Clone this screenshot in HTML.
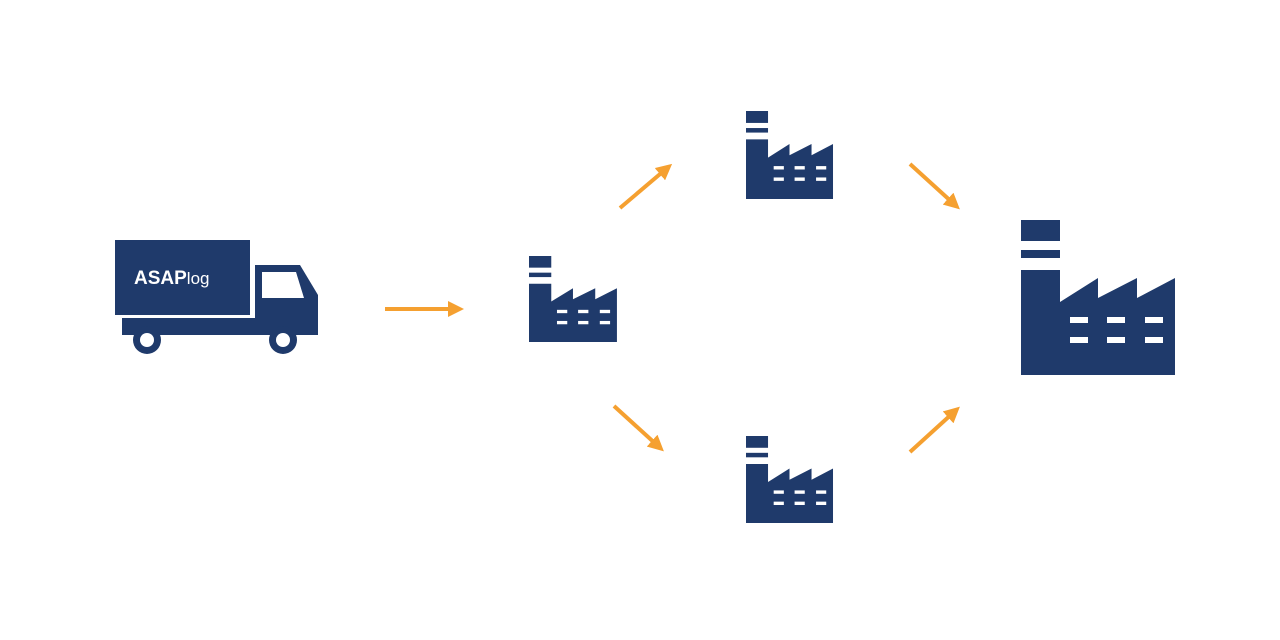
<!DOCTYPE html>
<html><head><style>html,body{margin:0;padding:0;background:#fff;width:1280px;height:640px;overflow:hidden}</style></head>
<body>
<svg width="1280" height="640" viewBox="0 0 1280 640" xmlns="http://www.w3.org/2000/svg">
<defs>
<g id="f">
<rect x="0" y="0" width="39" height="21" fill="#1f3a6b"/>
<rect x="0" y="30" width="39" height="8" fill="#1f3a6b"/>
<path d="M0 50 L39 50 L39 82 L77 58 L77 78 L116 58 L116 78 L154 58 L154 155 L0 155 Z" fill="#1f3a6b"/>
<g fill="#fff">
<rect x="49" y="97" width="18" height="6"/><rect x="86" y="97" width="18" height="6"/><rect x="124" y="97" width="18" height="6"/>
<rect x="49" y="117" width="18" height="6"/><rect x="86" y="117" width="18" height="6"/><rect x="124" y="117" width="18" height="6"/>
</g>
</g>
<marker id="a" markerWidth="4" markerHeight="4" refX="2" refY="2" orient="auto" markerUnits="strokeWidth"><path d="M0 0 L4 2 L0 4 Z" fill="#f5a030"/></marker>
</defs>
<use href="#f" transform="translate(1021,220)"/>
<use href="#f" transform="translate(529,256) scale(0.571,0.555)"/>
<use href="#f" transform="translate(746,111) scale(0.565,0.568)"/>
<use href="#f" transform="translate(746,436) scale(0.565,0.561)"/>
<g stroke="#f5a030" stroke-width="4" fill="none">
<line x1="385" y1="309" x2="456" y2="309" marker-end="url(#a)"/>
<line x1="620" y1="208" x2="666" y2="169" marker-end="url(#a)"/>
<line x1="614" y1="406" x2="658" y2="446" marker-end="url(#a)"/>
<line x1="910" y1="164" x2="954" y2="204" marker-end="url(#a)"/>
<line x1="910" y1="452" x2="954" y2="412" marker-end="url(#a)"/>
</g>
<g fill="#1f3a6b">
<rect x="115" y="240" width="135" height="75"/>
<path d="M255 265 L300 265 L318 295 L318 335 L255 335 Z"/>
<rect x="122" y="318" width="196" height="17"/>
<circle cx="147" cy="340" r="14"/>
<circle cx="283" cy="340" r="14"/>
</g>
<path d="M262 272 L296 272 L304 298 L262 298 Z" fill="#fff"/>
<circle cx="147" cy="340" r="7" fill="#fff"/>
<circle cx="283" cy="340" r="7" fill="#fff"/>
<text x="134" y="284" font-family="Liberation Sans, sans-serif" font-size="19" font-weight="bold" fill="#fff">ASAP<tspan font-weight="normal" font-size="17">log</tspan></text>
</svg>
</body></html>
